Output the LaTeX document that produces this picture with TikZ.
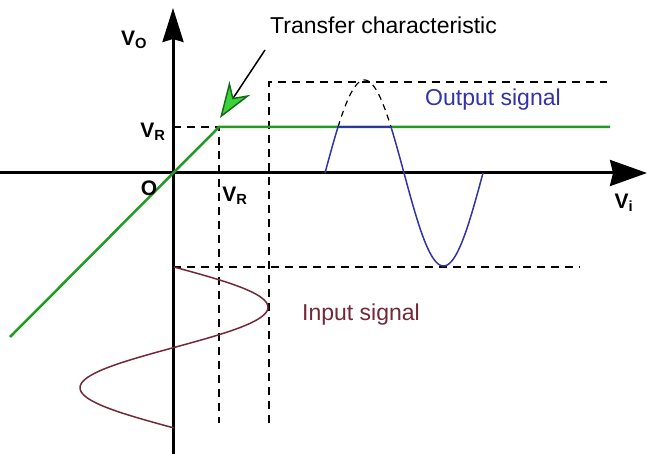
\documentclass[tikz,border=0pt]{standalone}
\usepackage{fontspec}
\setmainfont{Liberation Sans}
\usepackage{tikz}
\usetikzlibrary{arrows.meta,positioning}

\definecolor{chargreen}{RGB}{35,155,35}
\definecolor{tipgreen}{RGB}{60,210,60}
\definecolor{outblue}{RGB}{50,50,170}
\definecolor{inbrown}{RGB}{115,40,55}

\begin{document}
\begin{tikzpicture}[
    x=1pt, y=-1pt,
    axisline/.style={line width=3pt},
    chara/.style={line width=2.5pt, chargreen},
    guide/.style={line width=1.5pt, dash pattern=on 8pt off 6pt},
    outsig/.style={line width=1.5pt, outblue},
    insig/.style={line width=1.5pt, inbrown},
    lbl/.style={font=\fontsize{21}{21}\selectfont\bfseries, inner sep=0pt},
    txt/.style={font=\fontsize{23}{23}\selectfont, inner sep=0pt}
]
\useasboundingbox (0,0) rectangle (648,454);

% key points
\coordinate (O) at (173,173);
\coordinate (knee) at (219,127);
\coordinate (tip) at (220,118);

% axes
\draw[axisline, -{Stealth[length=34pt,width=21pt,inset=3pt]}] (173,454) -- (173,8);
\draw[axisline, -{Stealth[length=37pt,width=26pt,inset=3pt]}] (0,173) -- (647,173);

% guide lines
\draw[guide] (173,127) -- (knee) -- (219,423);
\draw[guide] (269,423) -- (269,82) -- (607,82);
\draw[guide] (173,267) -- (580,267);

% transfer characteristic
\draw[chara] (10,337) -- (knee) -- (610,127);

% input signal
\draw[insig] plot[domain=267:428, samples=90, smooth] ({174+94*sin((\x-267)/161*360)}, \x);

% output signal
\draw[outsig] plot[domain=325:338, samples=12] (\x, {173-93*sin((\x-325)/158*360)});
\draw[guide, line width=1.2pt, dash pattern=on 6pt off 5pt] plot[domain=338:391, samples=50, smooth] (\x, {173-93*sin((\x-325)/158*360)});
\draw[outsig] plot[domain=391:483, samples=80, smooth] (\x, {173-93*sin((\x-325)/158*360)});
\draw[outsig] (338,127) -- (391,127);

% labels
\node[lbl] (vo) at (134,40) {V\textsubscript{O}};
\node[lbl] (vrleft) at (153,132) {V\textsubscript{R}};
\node[lbl] (olbl) at (149,188) {O};
\node[lbl] (vrbot) at (235,196) {V\textsubscript{R}};
\node[lbl] (vi) at (624,203) {V\textsubscript{i}};

\node[txt, anchor=west] (tc) at (270,25) {Transfer characteristic};
\node[txt, anchor=west, text=outblue] (outl) at (425,100) {Output signal};
\node[txt, anchor=west, text=inbrown] (inl) at (302,315) {Input signal};

\draw[line width=1.5pt, -{Stealth[length=36pt,width=25pt,color=chargreen!70!black,fill=tipgreen]}]
    ([xshift=-5pt,yshift=-25pt]tc.west) -- (tip);

\end{tikzpicture}
\end{document}
